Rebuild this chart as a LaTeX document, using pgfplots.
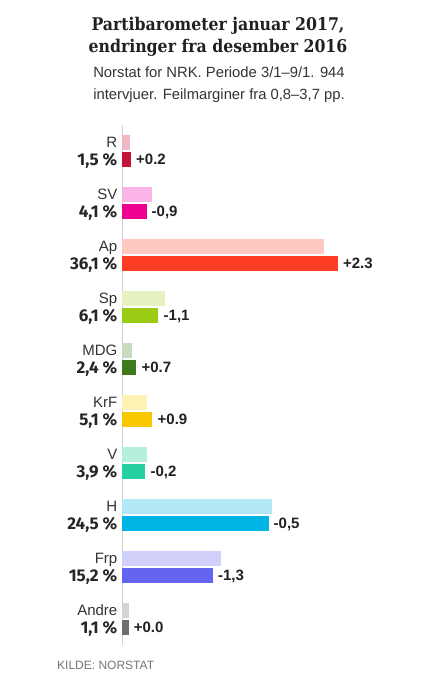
\documentclass[border=0pt]{standalone}
\usepackage{fontspec}
\setmainfont{Liberation Sans}
\newfontfamily\titlefont{DejaVu Serif Condensed}
\newfontfamily\numfont{Fira Sans}
\usepackage{pgfplots}
\pgfplotsset{compat=1.18}
\definecolor{Rl}{HTML}{F0B8C4}\definecolor{Rd}{HTML}{C4143C}
\definecolor{SVl}{HTML}{FBB4E8}\definecolor{SVd}{HTML}{EE0090}
\definecolor{Apl}{HTML}{FFC8C0}\definecolor{Apd}{HTML}{FF3D22}
\definecolor{Spl}{HTML}{E6F2C0}\definecolor{Spd}{HTML}{9CCB13}
\definecolor{MDGl}{HTML}{C8DBBE}\definecolor{MDGd}{HTML}{3E7A1A}
\definecolor{KrFl}{HTML}{FFF0B4}\definecolor{KrFd}{HTML}{F9C800}
\definecolor{Vl}{HTML}{B4F0DC}\definecolor{Vd}{HTML}{27D19F}
\definecolor{Hl}{HTML}{B4E8F6}\definecolor{Hd}{HTML}{00B4E6}
\definecolor{Frpl}{HTML}{D0D0FA}\definecolor{Frpd}{HTML}{6464F0}
\definecolor{Andl}{HTML}{D4D4D4}\definecolor{Andd}{HTML}{6E6E6E}
\definecolor{linegray}{HTML}{D0D0D0}
\definecolor{txt}{HTML}{333333}
\definecolor{src}{HTML}{777777}
\begin{document}
\begin{tikzpicture}
\fill[white] (0pt,0pt) rectangle (440pt,-680pt);
\node[anchor=base, font=\titlefont\bfseries\fontsize{17.5}{21}\selectfont, text=black!87] at (218pt,-30pt) {Partibarometer januar 2017,};
\node[anchor=base, font=\titlefont\bfseries\fontsize{17.5}{21}\selectfont, text=black!87] at (218pt,-52.7pt) {endringer fra desember 2016};
\node[anchor=base, font=\fontsize{14.8}{16}\selectfont, text=txt] at (219pt,-77.5pt) {Norstat for NRK. Periode 3/1–9/1. 944};
\node[anchor=base, font=\fontsize{14.8}{16}\selectfont, text=txt] at (219pt,-99.5pt) {intervjuer. Feilmarginer fra 0,8–3,7 pp.};
\node[anchor=base west, font=\fontsize{12}{15}\selectfont, text=src, inner sep=0pt] at (57pt,-669pt) {KILDE: NORSTAT};
\begin{axis}[
  at={(122pt,-125pt)}, anchor=north west,
  scale only axis, width=299pt, height=520pt,
  xmin=0, xmax=50, ymin=-0.5, ymax=9.5, y dir=reverse,
  axis x line=none, axis y line=left,
  y axis line style={-, draw=linegray, line width=1pt},
  xtick=\empty,
  ytick={-0.1635,0.8365,1.8365,2.8365,3.8365,4.8365,5.8365,6.8365,7.8365,8.8365},
  yticklabels={R,SV,Ap,Sp,MDG,KrF,V,H,Frp,Andre},
  yticklabel style={font=\fontsize{15}{15}\selectfont, text=txt, inner sep=0pt, xshift=-4.5pt, text height=10.7pt, text depth=0pt},
  extra y ticks={0.1635,1.1635,2.1635,3.1635,4.1635,5.1635,6.1635,7.1635,8.1635,9.1635},
  extra y tick labels={{1,5 \%},{4,1 \%},{36,1 \%},{6,1 \%},{2,4 \%},{5,1 \%},{3,9 \%},{24,5 \%},{15,2 \%},{1,1 \%}},
  extra y tick style={yticklabel style={font=\numfont\bfseries\fontsize{17}{17}\selectfont, text=black!85, text height=12.2pt}},
  major tick length=0pt,
  xbar, bar width=15pt, bar shift=0pt,
  clip=false,
  point meta=explicit symbolic,
  every node near coord/.append style={font=\bfseries\fontsize{15}{15}\selectfont, text=black!87, anchor=west, inner sep=0pt, xshift=5pt, text height=10.7pt, text depth=0pt},
]
\addplot[fill=Rl, draw=none] coordinates {(1.3,-0.1635)};
\addplot[fill=Rd, draw=none, nodes near coords] coordinates {(1.5,0.1635) [+0.2]};
\addplot[fill=SVl, draw=none] coordinates {(5.0,0.8365)};
\addplot[fill=SVd, draw=none, nodes near coords] coordinates {(4.1,1.1635) [-0,9]};
\addplot[fill=Apl, draw=none] coordinates {(33.8,1.8365)};
\addplot[fill=Apd, draw=none, nodes near coords] coordinates {(36.1,2.1635) [+2.3]};
\addplot[fill=Spl, draw=none] coordinates {(7.2,2.8365)};
\addplot[fill=Spd, draw=none, nodes near coords] coordinates {(6.1,3.1635) [-1,1]};
\addplot[fill=MDGl, draw=none] coordinates {(1.7,3.8365)};
\addplot[fill=MDGd, draw=none, nodes near coords] coordinates {(2.4,4.1635) [+0.7]};
\addplot[fill=KrFl, draw=none] coordinates {(4.2,4.8365)};
\addplot[fill=KrFd, draw=none, nodes near coords] coordinates {(5.1,5.1635) [+0.9]};
\addplot[fill=Vl, draw=none] coordinates {(4.1,5.8365)};
\addplot[fill=Vd, draw=none, nodes near coords] coordinates {(3.9,6.1635) [-0,2]};
\addplot[fill=Hl, draw=none] coordinates {(25.0,6.8365)};
\addplot[fill=Hd, draw=none, nodes near coords] coordinates {(24.5,7.1635) [-0,5]};
\addplot[fill=Frpl, draw=none] coordinates {(16.5,7.8365)};
\addplot[fill=Frpd, draw=none, nodes near coords] coordinates {(15.2,8.1635) [-1,3]};
\addplot[fill=Andl, draw=none] coordinates {(1.1,8.8365)};
\addplot[fill=Andd, draw=none, nodes near coords] coordinates {(1.1,9.1635) [+0.0]};
\end{axis}
\end{tikzpicture}
\end{document}
